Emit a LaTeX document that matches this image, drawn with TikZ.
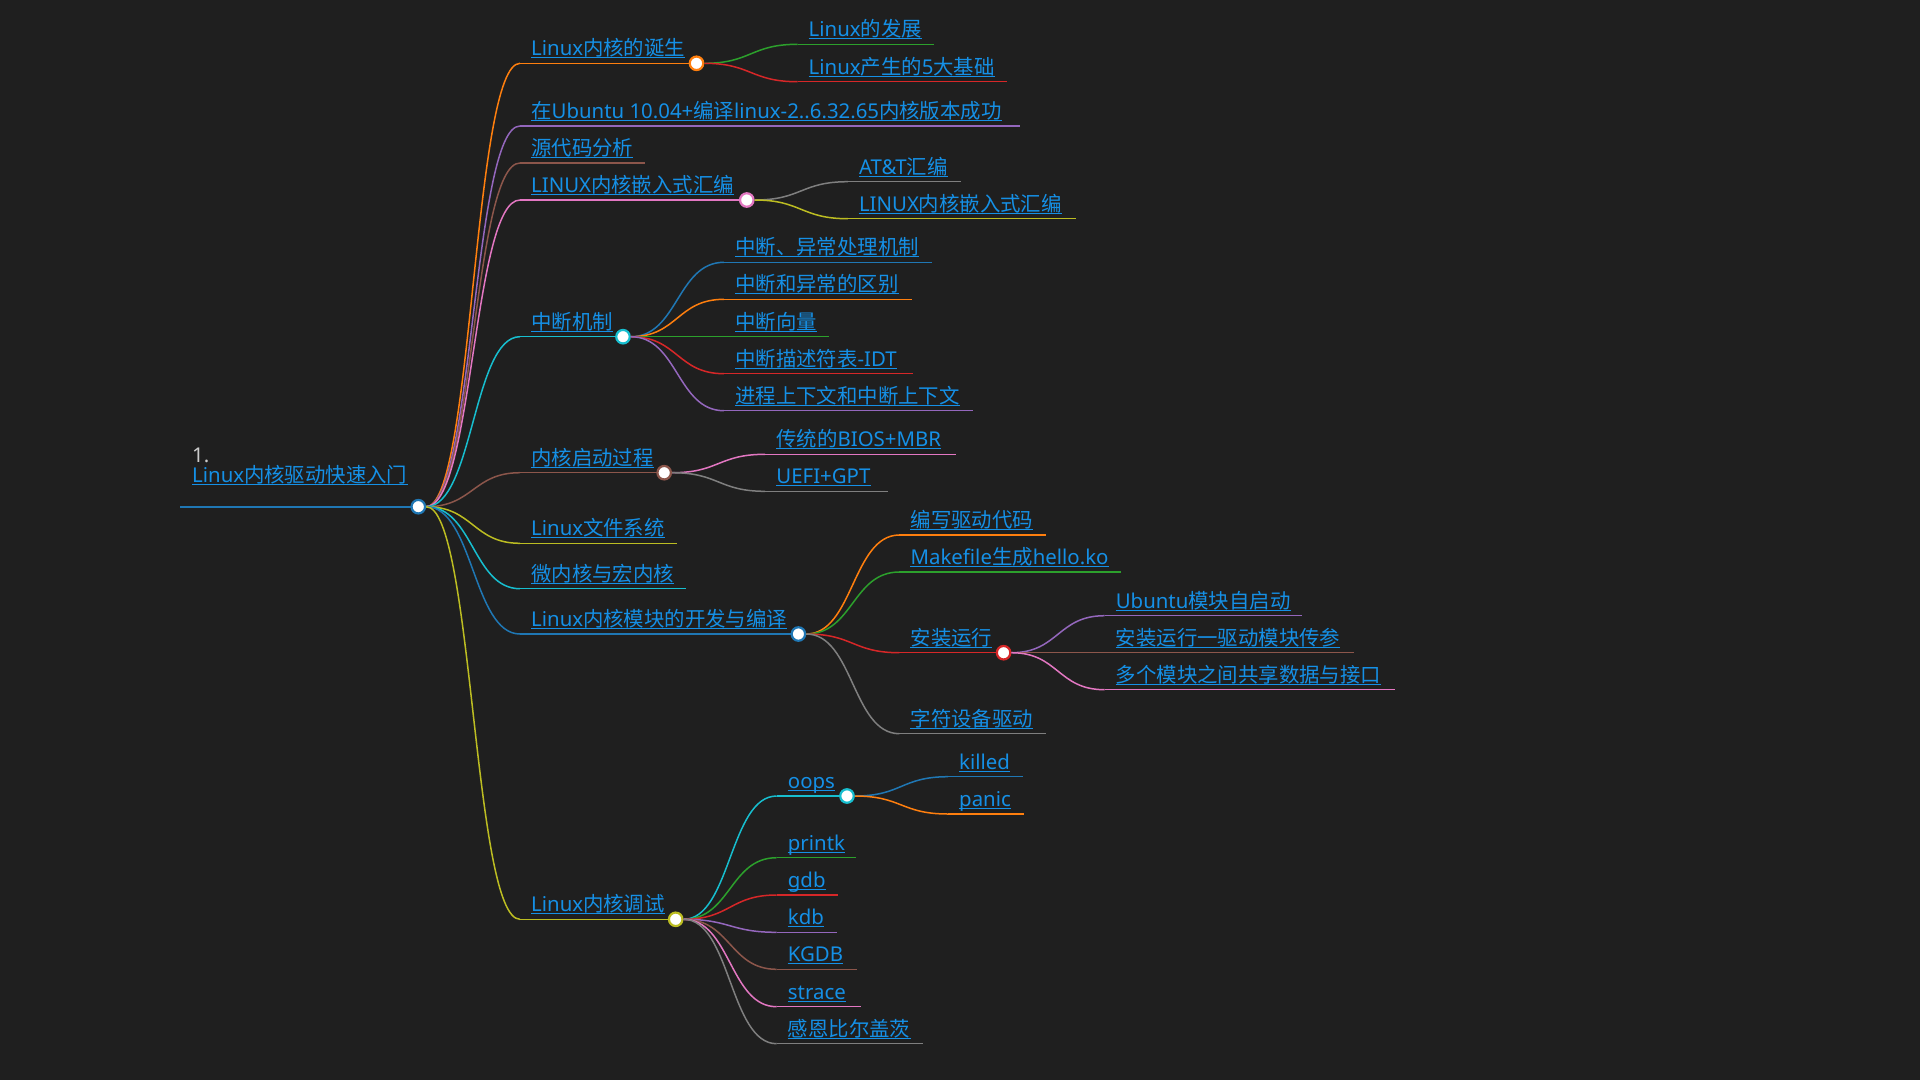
\documentclass[tikz,border=0pt]{standalone}
\usepackage{fontspec}
\usepackage{xcolor}
\usepackage{tikz}
\setmainfont{Noto Sans}
\newfontfamily\hanfont{Noto Sans CJK SC}

% switch to the CJK font for Han characters
\XeTeXinterchartokenstate=1
\newXeTeXintercharclass\hanclass
\newcount\hancode
\hancode="2E80
\loop
  \XeTeXcharclass\hancode=\hanclass
  \advance\hancode by 1
\ifnum\hancode<"A000 \repeat
\hancode="FF00
\loop
  \XeTeXcharclass\hancode=\hanclass
  \advance\hancode by 1
\ifnum\hancode<"FFF0 \repeat
\XeTeXinterchartoks 0 \hanclass = {\begingroup\hanfont}
\XeTeXinterchartoks 4095 \hanclass = {\begingroup\hanfont}
\XeTeXinterchartoks \hanclass 0 = {\endgroup}
\XeTeXinterchartoks \hanclass 4095 = {\endgroup}

\definecolor{bgdark}{HTML}{1F1F1F}
\definecolor{linkblue}{HTML}{1590E6}
\definecolor{numgray}{HTML}{CCCCCC}
\definecolor{c10blue}{HTML}{1F77B4}
\definecolor{c10orange}{HTML}{FF7F0E}
\definecolor{c10green}{HTML}{2CA02C}
\definecolor{c10red}{HTML}{D62728}
\definecolor{c10purple}{HTML}{9467BD}
\definecolor{c10brown}{HTML}{8C564B}
\definecolor{c10pink}{HTML}{E377C2}
\definecolor{c10gray}{HTML}{7F7F7F}
\definecolor{c10olive}{HTML}{BCBD22}
\definecolor{c10cyan}{HTML}{17BECF}

% topic without children: name, colour, x, y, line end, text
\newcommand\mmleaf[6]{%
  \coordinate (s#1) at (#3,#4);
  \coordinate (e#1) at (#5,#4);
  \node[lbl] (t#1) at ([shift={(11pt,7.5pt)}]s#1) {#6};
  \draw[ul] ([yshift=-2pt]t#1.base west) -- ([yshift=-2pt]t#1.base east);
  \draw[br=#2] (s#1) -- (e#1);
}
% topic with children: the line ends in a circle k<name>
\newcommand\mmfork[6]{%
  \mmleaf{#1}{#2}{#3}{#4}{#5}{#6}
  \node[dot, draw=#2] (k#1) at (e#1) {};
}

\begin{document}
\begin{tikzpicture}[
        x=1pt, y=-1pt,
        lbl/.style={anchor=base west, inner sep=0pt, text=linkblue,
                    font=\fontsize{20.4}{24}\selectfont},
        ul/.style={draw=linkblue, line width=1.3pt},
        br/.style={draw=#1, line width=1.5pt},
        dot/.style={circle, fill=white, line width=2.2pt, inner sep=0pt, minimum size=13.5pt},
    ]
    \path[use as bounding box, fill=bgdark] (0,0) rectangle (1920,1080);

    % root
    \coordinate (s0) at (180,506.7);
    \coordinate (e0) at (418.3,506.7);
    \node[lbl, text=numgray] (n0) at (192,462.7) {1.};
    \node[lbl] (t0) at (192,482.7) {Linux内核驱动快速入门};
    \draw[ul] ([yshift=-2pt]t0.base west) -- ([yshift=-2pt]t0.base east);
    \draw[br=c10blue, line width=2.2pt] (s0) -- (e0);
    \node[dot, draw=c10blue] (k0) at (e0) {};

    % first level
    \mmfork{1}{c10orange}{520}{63.3}{696.5}{Linux内核的诞生}
    \mmleaf{2}{c10purple}{520}{126}{1020.4}{在Ubuntu 10.04+编译linux-2..6.32.65内核版本成功}
    \mmleaf{3}{c10brown}{520}{163}{644.6}{源代码分析}
    \mmfork{4}{c10pink}{520}{200}{746.8}{LINUX内核嵌入式汇编}
    \mmfork{5}{c10cyan}{520}{336.7}{623}{中断机制}
    \mmfork{6}{c10brown}{520}{472.7}{664.2}{内核启动过程}
    \mmleaf{7}{c10olive}{520}{543.3}{676.7}{Linux文件系统}
    \mmleaf{8}{c10cyan}{520}{588.7}{685.5}{微内核与宏内核}
    \mmfork{9}{c10blue}{520}{634}{798.4}{Linux内核模块的开发与编译}
    \mmfork{10}{c10olive}{520}{919.3}{675.7}{Linux内核调试}

    % second level
    \mmleaf{11}{c10green}{797.5}{44.3}{934}{Linux的发展}
    \mmleaf{12}{c10red}{797.5}{81.7}{1007}{Linux产生的5大基础}
    \mmleaf{41}{c10gray}{847.8}{181.7}{961}{AT\&T汇编}
    \mmleaf{42}{c10olive}{847.8}{218.7}{1075.5}{LINUX内核嵌入式汇编}
    \mmleaf{51}{c10blue}{724}{262.3}{931.7}{中断、异常处理机制}
    \mmleaf{52}{c10orange}{724}{299.3}{911.6}{中断和异常的区别}
    \mmleaf{53}{c10green}{724}{336.7}{829}{中断向量}
    \mmleaf{54}{c10red}{724}{373.7}{912.5}{中断描述符表-IDT}
    \mmleaf{55}{c10purple}{724}{410.7}{972.7}{进程上下文和中断上下文}
    \mmleaf{61}{c10pink}{765.2}{454.3}{956}{传统的BIOS+MBR}
    \mmleaf{62}{c10gray}{765.2}{491.3}{888}{UEFI+GPT}
    \mmleaf{91}{c10orange}{899.4}{535}{1045.6}{编写驱动代码}
    \mmleaf{92}{c10green}{899.4}{572}{1120.7}{Makefile生成hello.ko}
    \mmfork{93}{c10red}{899.4}{652.7}{1003.6}{安装运行}
    \mmleaf{94}{c10gray}{899.4}{733.7}{1045.6}{字符设备驱动}
    \mmfork{101}{c10cyan}{776.7}{796}{847}{oops}
    \mmleaf{102}{c10green}{776.7}{857.7}{856.3}{printk}
    \mmleaf{103}{c10red}{776.7}{895}{838}{gdb}
    \mmleaf{104}{c10purple}{776.7}{932.3}{837}{kdb}
    \mmleaf{105}{c10brown}{776.7}{969.3}{856.6}{KGDB}
    \mmleaf{106}{c10pink}{776.7}{1006.7}{861.3}{strace}
    \mmleaf{107}{c10gray}{776.7}{1043.7}{922.7}{感恩比尔盖茨}

    % third level
    \mmleaf{931}{c10purple}{1104.6}{615.7}{1302.3}{Ubuntu模块自启动}
    \mmleaf{932}{c10brown}{1104.6}{652.7}{1353.7}{安装运行一驱动模块传参}
    \mmleaf{933}{c10pink}{1104.6}{689.7}{1394.7}{多个模块之间共享数据与接口}
    \mmleaf{1011}{c10blue}{948}{776.7}{1022.7}{killed}
    \mmleaf{1012}{c10orange}{948}{814}{1024}{panic}

    % links from parent circle to child line
    \foreach \p/\c/\col in {k0/s1/c10orange, k0/s2/c10purple, k0/s3/c10brown,
            k0/s4/c10pink, k0/s5/c10cyan, k0/s6/c10brown, k0/s7/c10olive,
            k0/s8/c10cyan, k0/s9/c10blue, k0/s10/c10olive,
            k1/s11/c10green, k1/s12/c10red, k4/s41/c10gray, k4/s42/c10olive,
            k5/s51/c10blue, k5/s52/c10orange, k5/s53/c10green, k5/s54/c10red,
            k5/s55/c10purple, k6/s61/c10pink, k6/s62/c10gray,
            k9/s91/c10orange, k9/s92/c10green, k9/s93/c10red, k9/s94/c10gray,
            k93/s931/c10purple, k93/s932/c10brown, k93/s933/c10pink,
            k10/s101/c10cyan, k10/s102/c10green, k10/s103/c10red,
            k10/s104/c10purple, k10/s105/c10brown, k10/s106/c10pink,
            k10/s107/c10gray, k101/s1011/c10blue, k101/s1012/c10orange}
        \draw[br=\col] (\p.east) .. controls +(47,0) and +(-47,0) .. (\c);
\end{tikzpicture}
\end{document}
